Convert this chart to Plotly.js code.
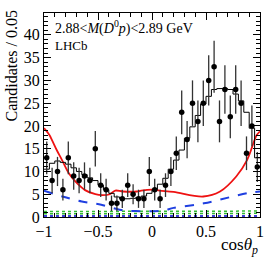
<!DOCTYPE html>
<html>
<head>
<meta charset="utf-8">
<script src="https://cdn.plot.ly/plotly-3.0.1.min.js"></script>
<style>html,body{margin:0;padding:0;background:#fff;}#chart{width:274px;height:260px;}</style>
</head>
<body>
<div id="chart"></div>
<script>
// bin centres of cos(theta_p), width 0.05
const binCenters = [-0.975,-0.925,-0.875,-0.825,-0.775,-0.725,-0.675,-0.625,-0.575,-0.525,
  -0.475,-0.425,-0.375,-0.325,-0.275,-0.225,-0.175,-0.125,-0.075,-0.025,
  0.025,0.075,0.125,0.175,0.225,0.275,0.325,0.375,0.425,0.475,
  0.525,0.575,0.625,0.675,0.725,0.775,0.825,0.875,0.925,0.975];
const binHalfWidth = 0.025;
// data counts
const counts = [13,8,10,6,13,9,8,9,8,15,
  7,6,3,3,4,7,5,4,4,10,
  6,4,7,10,14,23,17,25,21,25,
  30,33,21,28,22,28,25,14,20,11];
const countErr = [3.6,2.8,3.2,2.4,3.6,3.0,2.8,3.0,2.8,3.9,
  2.6,2.4,1.7,1.7,2.0,2.6,2.2,2.0,2.0,3.2,
  2.4,2.0,2.6,3.2,3.7,4.8,4.1,5.0,4.6,5.0,
  5.5,5.7,4.6,5.3,4.7,5.3,5.0,3.7,4.5,3.3];
// total fit (step histogram)
const fitTotal = [10.5,11.8,12.3,12.0,11.6,10.8,10.0,9.3,8.6,8.0,
  7.0,6.0,5.2,4.4,4.0,4.0,4.1,4.3,4.6,5.2,
  6.0,7.2,8.5,10.5,12.5,14.7,17.3,19.8,22.3,24.8,
  26.5,28.0,28.2,28.2,28.0,27.0,25.5,23.0,19.5,13.0];
// red component
const redX = [-1,-0.95,-0.926,-0.88,-0.833,-0.77,-0.71,-0.62,-0.525,-0.46,-0.39,-0.34,-0.27,-0.14,-0.1,0.01,0.07,0.2,0.475,0.63,0.78,0.88,0.97,1.0];
const redY = [19.5,18.0,16.9,14.6,12.5,9.6,7.8,5.9,5.0,4.8,5.0,5.8,5.6,5.6,5.8,6.0,5.8,5.5,4.5,5.6,8.9,12.5,18.0,18.8];
// blue dashed component
const blueX = [-1,-0.83,-0.65,-0.47,-0.3,-0.15,0.1,0.2,0.48,0.73,0.9,1.0];
const blueY = [5.8,4.5,3.4,2.7,1.6,1.3,1.4,2.0,3.0,4.4,5.3,5.6];
// small components
const smallX = [-1,0,1];
const green1Y = [1.2,1.25,1.3];
const green2Y = [0.7,0.75,0.8];
const navyY = [0.2,0.2,0.2];

const edges = binCenters.map(c => c - binHalfWidth).concat([binCenters[binCenters.length-1] + binHalfWidth]);
const stepY = fitTotal.concat([fitTotal[fitTotal.length-1]]);

const serif = "'Liberation Serif', 'Times New Roman', Times, serif";
const traces = [
  {x: smallX, y: navyY, mode:'lines', line:{color:'#0000cc', width:1.5, dash:'dot'}, hoverinfo:'skip'},
  {x: smallX, y: green2Y, mode:'lines', line:{color:'#33bb33', width:1.5, dash:'dot'}, hoverinfo:'skip'},
  {x: smallX, y: green1Y, mode:'lines', line:{color:'#33bb33', width:1.5, dash:'dot'}, hoverinfo:'skip'},
  {x: blueX, y: blueY, mode:'lines', line:{color:'#1f3fe0', width:2, dash:'dash', shape:'spline'}},
  {x: redX, y: redY, mode:'lines', line:{color:'#ee1111', width:1.8, shape:'spline'}},
  {x: edges, y: stepY, mode:'lines', line:{color:'#000', width:1, shape:'hv'}},
  {x: binCenters, y: counts, mode:'markers', marker:{color:'#000', size:5.5},
   error_y:{type:'data', array: countErr, visible:true, color:'#333', thickness:1.3, width:0}}
];

const layout = {
  width: 274, height: 260,
  margin: {l:44, r:14, t:13, b:43},
  paper_bgcolor:'#fff', plot_bgcolor:'#fff',
  showlegend:false,
  font:{family: serif, color:'#000', size:15},
  xaxis:{range:[-1,1], tickvals:[-1,-0.5,0,0.5,1], ticktext:['\u22121','\u22120.5','0','0.5','1'],
    ticks:'inside', ticklen:7, tickwidth:1, tickcolor:'#000',
    minor:{ticks:'inside', dtick:0.1, ticklen:4, tickcolor:'#000', tick0:0},
    showline:true, linecolor:'#000', linewidth:1, mirror:'allticks', showgrid:false, zeroline:false,
    tickfont:{family:serif, size:16, color:'#000'}},
  yaxis:{range:[0,44.8], dtick:5, tick0:0,
    ticks:'inside', ticklen:7, tickwidth:1, tickcolor:'#000',
    minor:{ticks:'inside', dtick:1, ticklen:4, tickcolor:'#000'},
    showline:true, linecolor:'#000', linewidth:1, mirror:'allticks', showgrid:false, zeroline:false,
    tickfont:{family:serif, size:16, color:'#000'}},
  annotations:[
    {text:'Candidates / 0.05', textangle:-90, xref:'paper', yref:'paper', x:-0.15, y:1.025,
     xanchor:'center', yanchor:'top', showarrow:false, font:{family:serif, size:16, color:'#000'}},
    {text:'cos<i>θ</i><sub><i>p</i></sub>', xref:'paper', yref:'paper', x:1.0, y:-0.08,
     xanchor:'right', yanchor:'top', showarrow:false, font:{family:serif, size:17, color:'#000'}},
    {text:'2.88&lt;<i>M</i>(<i>D</i><sup>0</sup><i>p</i>)&lt;2.89 GeV', xref:'paper', yref:'paper', x:0.04, y:0.985,
     xanchor:'left', yanchor:'top', showarrow:false, font:{family:serif, size:14, color:'#000'}},
    {text:'LHCb', xref:'paper', yref:'paper', x:0.04, y:0.885,
     xanchor:'left', yanchor:'top', showarrow:false, font:{family:serif, size:13, color:'#000'}}
  ]
};
Plotly.newPlot('chart', traces, layout, {staticPlot:true, displayModeBar:false});
</script>
</body>
</html>
